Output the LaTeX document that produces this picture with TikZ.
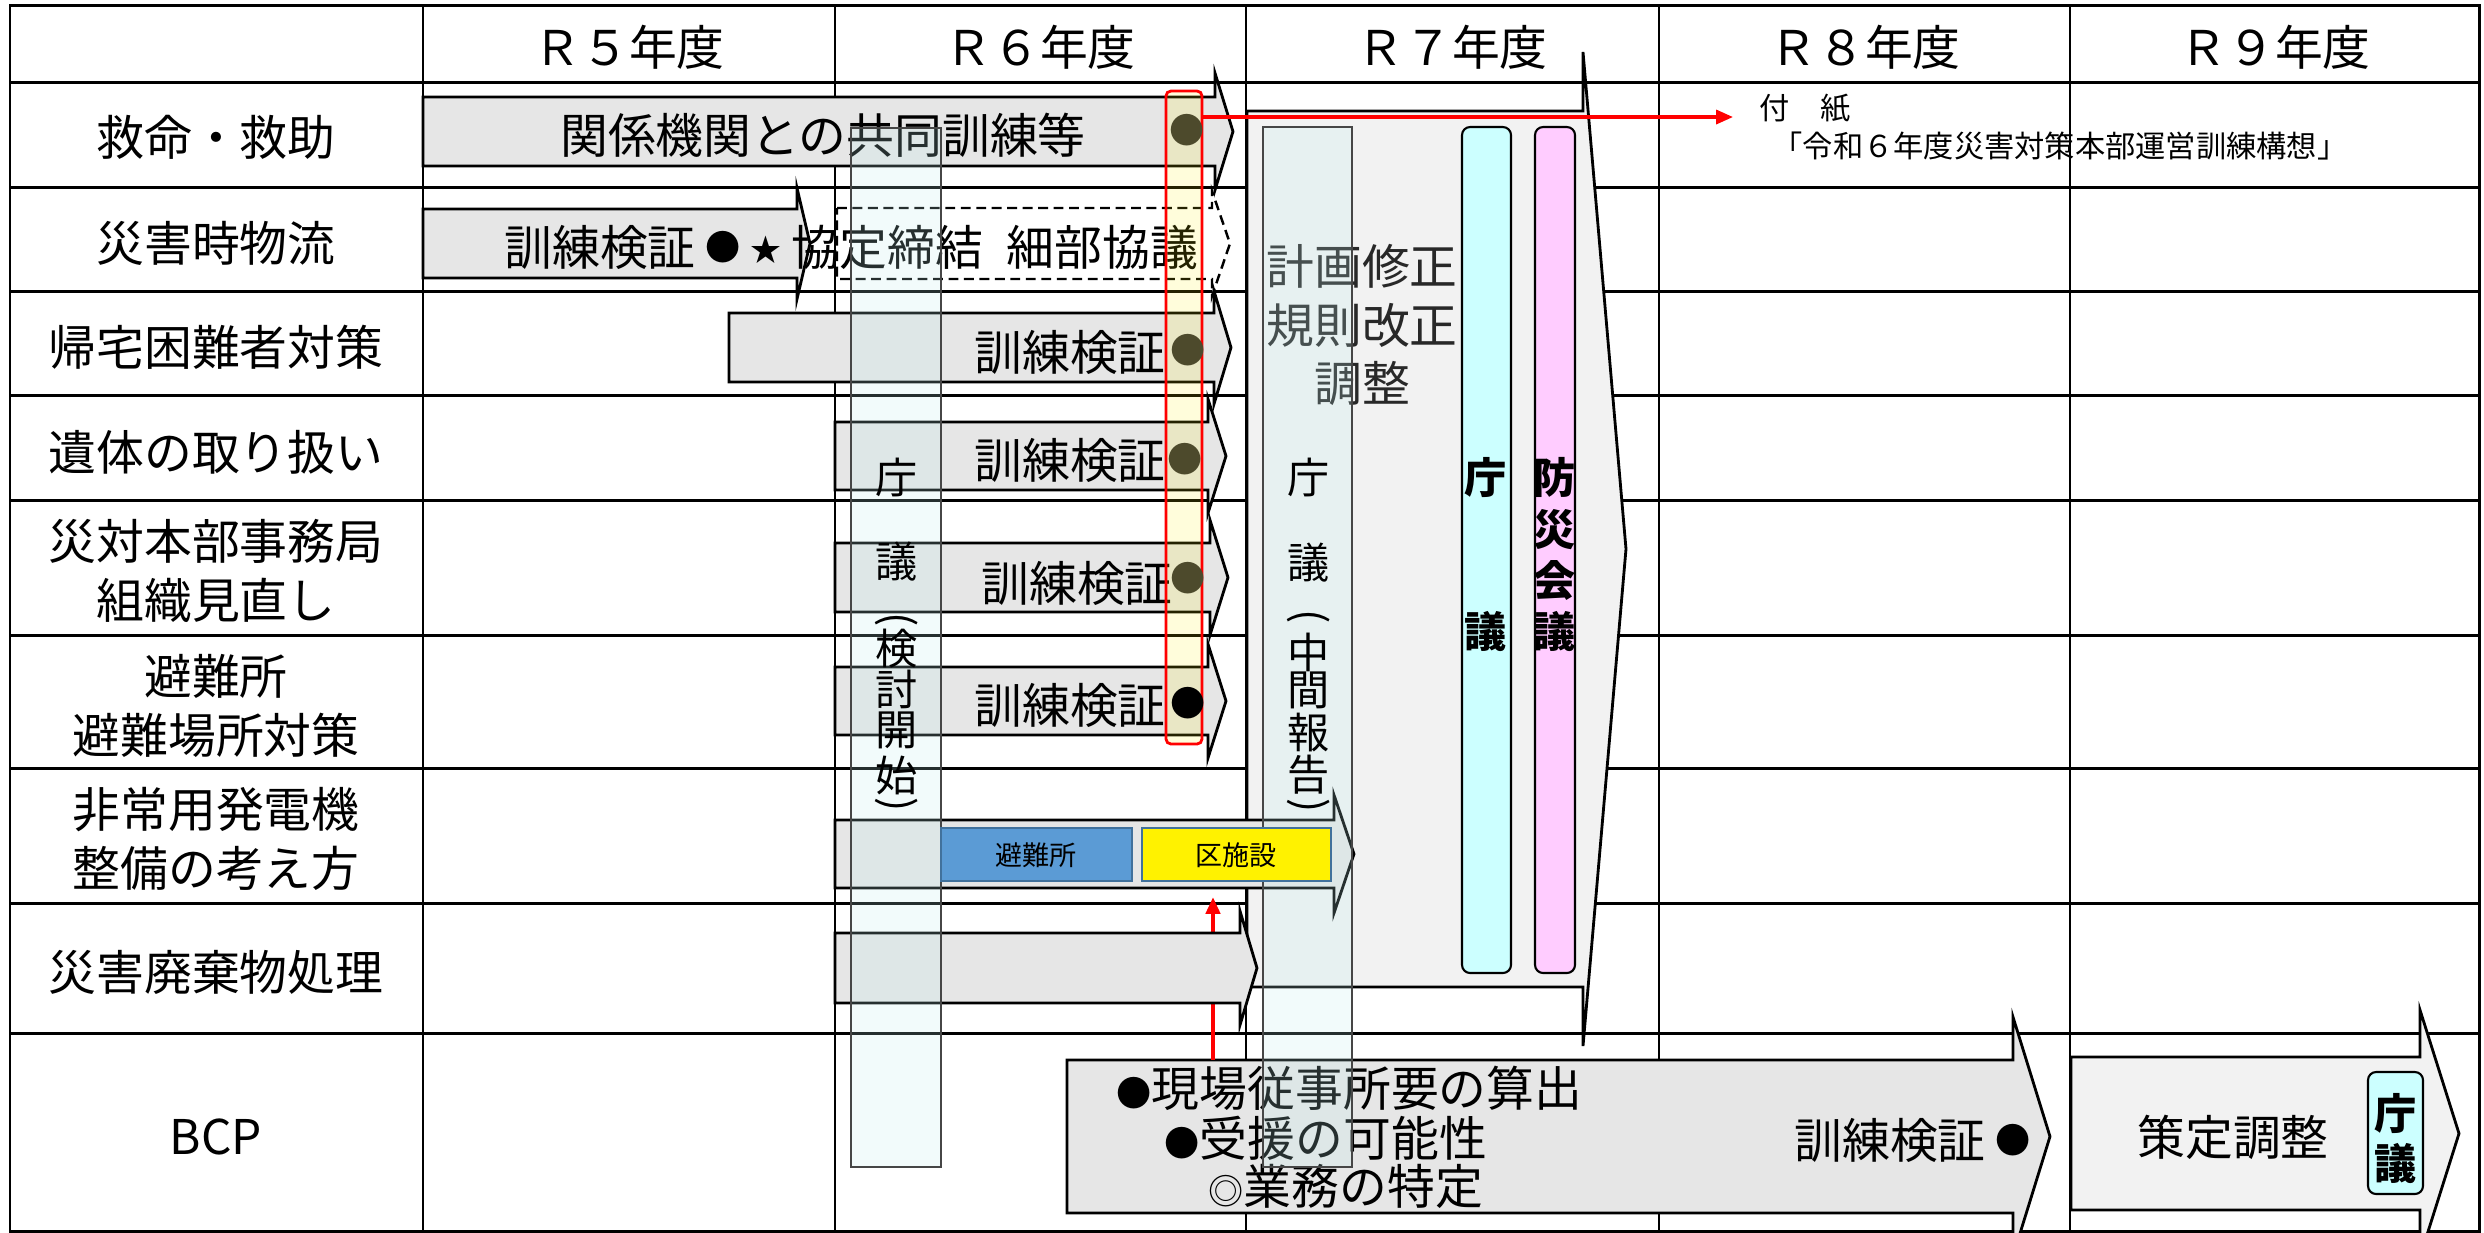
\documentclass[tikz,border=0pt]{standalone}
\usepackage{fontspec}
\setmainfont{Noto Sans CJK JP}
\usetikzlibrary{arrows.meta}
\definecolor{arrgray}{RGB}{230,230,230}
\definecolor{arrlight}{RGB}{242,242,242}
\definecolor{barcyan}{RGB}{190,238,238}
\definecolor{bardraw}{RGB}{70,70,70}
\definecolor{tcyan}{RGB}{204,255,255}
\definecolor{tpink}{RGB}{255,204,255}
\definecolor{boxblue}{RGB}{91,155,213}
\definecolor{boxedge}{RGB}{65,113,156}
\definecolor{dotolive}{RGB}{77,74,44}
\definecolor{plantext}{RGB}{40,40,40}
\newcommand\fsz[1]{\fontsize{#1}{#1}\selectfont}
\newcommand\shaperarrow[7]{\path[#1] ({#2},{#5}) -- ({#3},{#5}) -- ({#3},{#5-#7}) -- ({#4},{(#5+#6)/2}) -- ({#3},{#6+#7}) -- ({#3},{#6}) -- ({#2},{#6}) -- cycle;}
\tikzset{
  rowline/.style={line width=0.85pt},
  colline/.style={line width=0.6pt},
  rowarr/.style={draw=black, line width=0.8pt, fill=arrgray, line join=miter},
  lightarr/.style={draw=black, line width=0.8pt, fill=arrlight, line join=miter},
  dasharr/.style={draw=black, line width=0.7pt, fill=white, dash pattern=on 2.8pt off 1.6pt},
  txt/.style={inner sep=0pt, font=\fsz{13.6}},
  mtxt/.style={inner sep=0pt, align=center, font=\fontsize{13.6}{16.6}\selectfont},
  vtxt/.style={inner sep=0pt, font=\fsz{12}},
  btxt/.style={inner sep=0pt, font=\fsz{12}\bfseries},
  smalltxt/.style={inner sep=0pt, font=\fsz{8.6}},
  boxtxt/.style={inner sep=0pt, font=\fsz{7.7}},
  dottxt/.style={inner sep=0pt, font=\fsz{10}, text=dotolive},
  tbar/.style={fill=barcyan, fill opacity=0.2, draw=bardraw, line width=0.5pt},
  rbar/.style={draw=black, line width=0.6pt, rounded corners=2.3pt},
  redarr/.style={draw=red, line width=0.9pt, -{Triangle[length=4.8pt,width=4pt]}},
}
\newcommand\smdot{{\fsz{10}●}}
\begin{document}
\begin{tikzpicture}[x=0.01cm,y=-0.01cm]
\clip (0,0) rectangle (2484,1232);
\fill[white] (0,0) rectangle (2484,1232);
% grid
\foreach \yy in {82,187,291,395,500,635,768,903,1033} \draw[rowline] (10,\yy) -- (2479,\yy);
\foreach \xx in {423,835,1246,1659,2070} \draw[colline] (\xx,5) -- (\xx,1231);
\draw[rowline] (10,5) rectangle (2479,1231);
% header
\node[txt] (h5) at (629,47) {Ｒ５年度};
\node[txt] (h6) at (1040,47) {Ｒ６年度};
\node[txt] (h7) at (1452,47) {Ｒ７年度};
\node[txt] (h8) at (1865,47) {Ｒ８年度};
\node[txt] (h9) at (2275,47) {Ｒ９年度};
% row labels
\node[txt] (l1) at (216,137) {救命・救助};
\node[txt] (l2) at (216,243) {災害時物流};
\node[txt] (l3) at (216,347) {帰宅困難者対策};
\node[txt] (l4) at (216,452) {遺体の取り扱い};
\node[mtxt] (l5) at (216,571) {災対本部事務局\\組織見直し};
\node[mtxt] (l6) at (216,706) {避難所\\避難場所対策};
\node[mtxt] (l7) at (216,839) {非常用発電機\\整備の考え方};
\node[txt] (l8) at (216,972) {災害廃棄物処理};
\node[txt] (l9) at (216,1137) {BCP};
% big arrows
\shaperarrow{lightarr}{1247}{1583}{1626}{111}{987}{59}
\shaperarrow{rowarr}{1067}{2013}{2050}{1060}{1213}{43}
\shaperarrow{lightarr}{2071}{2420}{2459}{1057}{1210}{47}
% R7 plan text
\node[mtxt, text=plantext] (plan) at (1362,325) {計画修正\\規則改正\\調整};
% R7 bars
\path[rbar, fill=tcyan] (1462,127) rectangle (1511,973);
\path[rbar, fill=tpink] (1535,127) rectangle (1575,973);
\node[btxt] (cy1) at (1486,477) {庁};
\node[btxt] (cy2) at (1486,631) {議};
\node[btxt] (pk1) at (1555,477) {防};
\node[btxt] (pk2) at (1555,530) {災};
\node[btxt] (pk3) at (1555,580) {会};
\node[btxt] (pk4) at (1555,631) {議};
% BCP texts
\node[txt, anchor=west] (bcp1) at (1116,1088) {\smdot 現場従事所要の算出};
\node[txt, anchor=west] (bcp2) at (1164,1138) {\smdot 受援の可能性};
\node[txt, anchor=west] (bcp3) at (1208,1186) {{\fsz{10}◎}業務の特定};
\node[txt] (bcp4) at (1890,1140) {訓練検証};
\node[inner sep=0pt, font=\fsz{10}] (bcpd) at (2013,1140) {●};
% R9
\node[txt] (r9t) at (2233,1137) {策定調整};
\path[rbar, fill=tcyan] (2368,1072) rectangle (2423,1194);
\node[btxt] (r9a) at (2396,1113) {庁};
\node[btxt] (r9b) at (2396,1163) {議};
% red vertical arrow (behind row 8 arrow)
\coordinate (bcptop) at (1213,1060);
\coordinate (r7bot) at (1213,897);
\draw[redarr, line width=1.3pt] (bcptop) -- (r7bot);
% row arrows
\shaperarrow{rowarr}{423}{1215}{1233}{97}{166}{24}
\shaperarrow{rowarr}{423}{797}{810}{209}{278}{21}
\shaperarrow{dasharr}{837}{1212}{1230}{208}{279}{17}
\shaperarrow{rowarr}{729}{1214}{1231}{313}{382}{22}
\shaperarrow{rowarr}{835}{1208}{1226}{422}{490}{23}
\shaperarrow{rowarr}{835}{1210}{1228}{543}{612}{23}
\shaperarrow{rowarr}{835}{1208}{1226}{667}{735}{23}
\shaperarrow{rowarr}{835}{1334}{1354}{820}{888}{25}
\shaperarrow{rowarr}{835}{1240}{1257}{933}{1003}{22}
% row arrow texts
\node[txt] (a1) at (823,135) {関係機関との共同訓練等};
\node[txt] (a2a) at (600,247) {訓練検証};
\node[inner sep=0pt, font=\fsz{10}] (a2b) at (723,247) {●};
\node[inner sep=0pt, font=\fsz{8.8}] (a2c) at (766,250) {★};
\node[txt] (a2d) at (995,247) {協定締結\hspace{0.5em}細部協議};
\node[txt] (a3) at (1070,352) {訓練検証};
\node[txt] (a4) at (1070,460) {訓練検証};
\node[txt] (a5) at (1077,583) {訓練検証};
\node[txt] (a6) at (1070,705) {訓練検証};
% transparent bars
\path[tbar] (851,128) rectangle (941,1167);
\path[tbar] (1263,127) rectangle (1352,1167);
% boxes in row 7 (above the bars)
\path[draw=boxedge, line width=0.7pt, fill=boxblue] (941,828) rectangle (1132,881);
\node[boxtxt] (bx1) at (1036,855) {避難所};
\path[draw=boxedge, line width=0.7pt, fill=yellow] (1142,828) rectangle (1331,881);
\node[boxtxt] (bx2) at (1236,855) {区施設};
% bar 1 vertical text
\node[vtxt] (v1a) at (897,477) {庁};
\node[vtxt] (v1b) at (897,562) {議};
\node[vtxt, rotate=-90] (v1c) at (897,620) {(};
\node[vtxt] (v1d) at (897,649) {検};
\node[vtxt] (v1e) at (897,689) {討};
\node[vtxt] (v1f) at (897,730) {開};
\node[vtxt] (v1g) at (897,775) {始};
\node[vtxt, rotate=-90] (v1h) at (897,805) {)};
% bar 2 vertical text
\node[vtxt] (v2a) at (1309,477) {庁};
\node[vtxt] (v2b) at (1309,563) {議};
\node[vtxt, rotate=-90] (v2c) at (1309,617) {(};
\node[vtxt] (v2d) at (1309,652) {中};
\node[vtxt] (v2e) at (1309,690) {間};
\node[vtxt] (v2f) at (1309,733) {報};
\node[vtxt] (v2g) at (1309,775) {告};
\node[vtxt, rotate=-90] (v2h) at (1309,806) {)};
% red rectangle and dots
\path[draw=red, line width=0.8pt, fill=yellow, fill opacity=0.14, rounded corners=1.4pt] (1166,91) rectangle (1202,744);
\node[dottxt] (d1) at (1187,130) {●};
\node[dottxt] (d3) at (1188,350) {●};
\node[dottxt] (d4) at (1185,459) {●};
\node[dottxt] (d5) at (1188,578) {●};
\node[inner sep=0pt, font=\fsz{10}] (d6) at (1188,703) {●};
% red horizontal arrow and note
\coordinate (redR) at (1202,117);
\coordinate (noteTip) at (1733,117);
\draw[redarr] (redR) -- (noteTip);
\node[smalltxt] (n1) at (1805,108) {付　紙};
\node[smalltxt] (n2) at (2060,146) {「令和６年度災害対策本部運営訓練構想」};
\end{tikzpicture}
\end{document}
